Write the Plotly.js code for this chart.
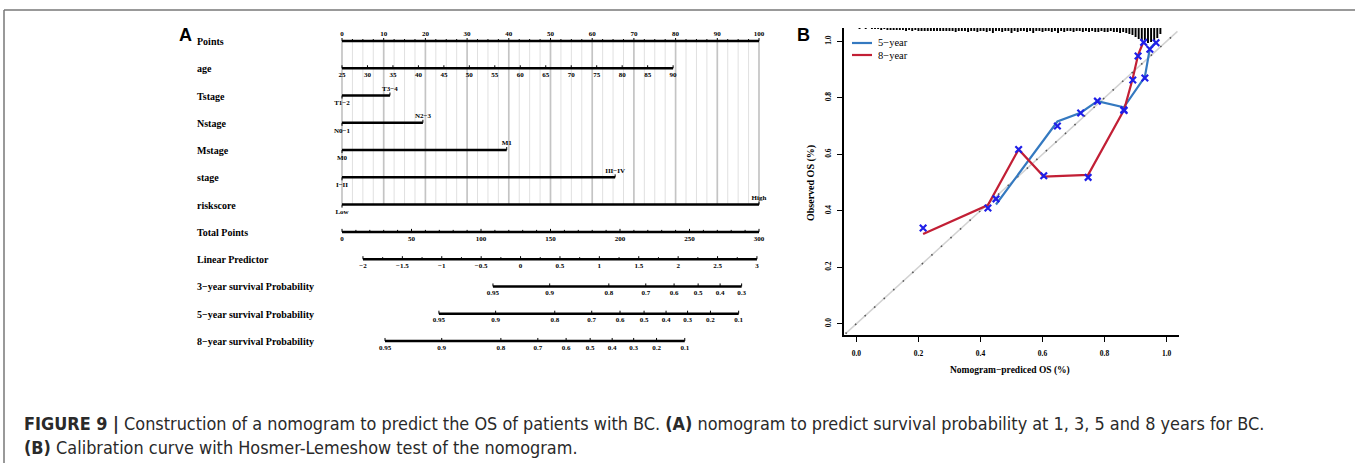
<!DOCTYPE html>
<html><head><meta charset="utf-8">
<script src="https://cdn.plot.ly/plotly-3.0.1.min.js"></script>
<style>body{margin:0;background:#fff}#chart{width:1355px;height:463px}</style>
</head><body><div id="chart"></div>
<script>
// ================= DATA =================
// Panel A: nomogram
const rowLabels = ["Points","age","Tstage","Nstage","Mstage","stage","riskscore","Total Points",
  "Linear Predictor","3\u2212year survival Probability","5\u2212year survival Probability","8\u2212year survival Probability"];
const pointsTicks = [0,10,20,30,40,50,60,70,80,90,100];
const ageTicks = [25,30,35,40,45,50,55,60,65,70,75,80,85,90];
const ageMaxPoints = 79.4;           // points given to age 90 (age 25 = 0)
const tstageLevels = ["T1\u22122","T3\u22124"];   const tstagePoints = [0, 11.5];
const nstageLevels = ["N0\u22121","N2\u22123"];   const nstagePoints = [0, 19.4];
const mstageLevels = ["M0","M1"];                const mstagePoints = [0, 39.5];
const stageLevels  = ["I\u2212II","III\u2212IV"]; const stagePoints  = [0, 65.5];
const riskLevels   = ["Low","High"];             const riskPoints   = [0, 100];
const totalTicks = [0,50,100,150,200,250,300];
const lpTicks = [-2,-1.5,-1,-0.5,0,0.5,1,1.5,2,2.5,3];
const lpAtTotal0 = -2.266;           // linear predictor at 0 total points
const lpPerTotal = 0.01764;          // linear predictor per total point
const surv3Ticks = [0.95,0.9,0.8,0.7,0.6,0.5,0.4,0.3];
const surv5Ticks = [0.95,0.9,0.8,0.7,0.6,0.5,0.4,0.3,0.2,0.1];
const surv8Ticks = [0.95,0.9,0.8,0.7,0.6,0.5,0.4,0.3,0.2,0.1];
const surv3Const = 2.62, surv5Const = 1.934, surv8Const = 1.25;  // lp = ln(-ln S) + const

// Panel B: calibration
const pred5 = [0.450, 0.648, 0.723, 0.777, 0.862, 0.930, 0.946, 0.966];
const obs5  = [0.422, 0.716, 0.747, 0.788, 0.766, 0.874, 0.974, 0.997];
const corr5 = [0.442, 0.700, 0.746, 0.788, 0.757, 0.870, 0.972, 0.995];
const pred8 = [0.215, 0.424, 0.523, 0.604, 0.747, 0.863, 0.891, 0.908, 0.926];
const obs8  = [0.318, 0.420, 0.617, 0.521, 0.527, 0.757, 0.869, 0.951, 1.000];
const corr8 = [0.339, 0.410, 0.617, 0.524, 0.518, 0.755, 0.863, 0.948, 0.996];
// distribution of predicted values (rug at top), bins of 0.01 starting at 0.00
const rugCounts = [0,1,0,1,0,1,1,1,2,1, 2,2,2,2,2,2,3,2,3,2, 3,3,3,3,3,3,3,3,3,3,
  3,3,4,3,3,3,4,3,3,4, 3,3,4,3,5,3,3,4,3,3, 5,3,4,3,3,4,3,5,3,3, 4,3,3,4,3,5,3,4,3,3,
  4,3,3,4,3,4,3,4,4,3, 4,4,3,4,4,5,4,5,6,7, 9,11,13,12,15,14,13,10,6];
const calTicks = [0,0.2,0.4,0.6,0.8,1.0];
const calTickText = ["0.0","0.2","0.4","0.6","0.8","1.0"];
const seriesNames = ["5\u2212year","8\u2212year"];

// ================= GEOMETRY =================
const W = 1355, H = 463;
const ptsX0 = 342, ptsX1 = 759;          // pixel of 0 and 100 points
const pxPerPt = (ptsX1 - ptsX0) / 100;
const row0Px = 41, pxPerRow = 27.27;
const off = px => px / pxPerRow;
const lpToX = lp => ((lp - lpAtTotal0) / lpPerTotal) / 3;
const survToX = (p, c) => lpToX(Math.log(-Math.log(p)) + c);
const fmtNum = v => (v < 0 ? "\u2212" + String(-v) : String(v));

const serif = "Liberation Serif, Times New Roman, serif";
const traces = [];

// grid lines (rows 0..6)
const gMaj = {x:[],y:[]}, gMin = {x:[],y:[]};
for (let i = 0; i <= 40; i++) {
  const p = i * 2.5;
  const g = (i % 4 === 0) ? gMaj : gMin;
  g.x.push(p, p, null); g.y.push(0, 6, null);
}
traces.push({x:gMin.x, y:gMin.y, mode:"lines", line:{color:"#e0e0e0", width:1}, hoverinfo:"skip", showlegend:false});
traces.push({x:gMaj.x, y:gMaj.y, mode:"lines", line:{color:"#c4c4c4", width:1.7}, hoverinfo:"skip", showlegend:false});

const L = {x:[],y:[]}, T = {x:[],y:[]};
const labs = {x:[],y:[],t:[]};
function addAxis(row, xs, texts, side, minorXs) {
  L.x.push(Math.min(...xs), Math.max(...xs), null); L.y.push(row, row, null);
  xs.forEach((x, i) => {
    T.x.push(x, x, null); T.y.push(row, row - off(3), null);
    labs.x.push(x); labs.y.push(row + (side === "above" ? -off(6.5) : off(7))); labs.t.push(texts[i]);
  });
  (minorXs || []).forEach(x => { T.x.push(x, x, null); T.y.push(row, row - off(2), null); });
}
function addCat(row, pts, levels) {
  L.x.push(pts[0], pts[1], null); L.y.push(row, row, null);
  T.x.push(pts[0], pts[0], null); T.y.push(row, row + off(3), null);
  T.x.push(pts[1], pts[1], null); T.y.push(row, row - off(3), null);
  labs.x.push(pts[0]); labs.y.push(row + off(8)); labs.t.push(levels[0]);
  labs.x.push(pts[1]); labs.y.push(row - off(6.5)); labs.t.push(levels[1]);
}
const minorPts = []; for (let p = 0; p <= 100; p += 2.5) if (p % 10) minorPts.push(p);
addAxis(0, pointsTicks, pointsTicks.map(String), "above", minorPts);
addAxis(1, ageTicks.map(a => (a - ageTicks[0]) / (ageTicks[ageTicks.length-1] - ageTicks[0]) * ageMaxPoints), ageTicks.map(String), "below");
addCat(2, tstagePoints, tstageLevels);
addCat(3, nstagePoints, nstageLevels);
addCat(4, mstagePoints, mstageLevels);
addCat(5, stagePoints, stageLevels);
addCat(6, riskPoints, riskLevels);
const minorTot = []; for (let t = 0; t <= 300; t += 10) if (t % 50) minorTot.push(t / 3);
addAxis(7, totalTicks.map(t => t / 3), totalTicks.map(String), "below", minorTot);
const minorLp = []; for (let v = -2; v <= 3; v += 0.25) if (Math.abs(v * 2 - Math.round(v * 2)) > 1e-6) minorLp.push(lpToX(v));
addAxis(8, lpTicks.map(lpToX), lpTicks.map(fmtNum), "below", minorLp);
addAxis(9, surv3Ticks.map(p => survToX(p, surv3Const)), surv3Ticks.map(String), "below");
addAxis(10, surv5Ticks.map(p => survToX(p, surv5Const)), surv5Ticks.map(String), "below");
addAxis(11, surv8Ticks.map(p => survToX(p, surv8Const)), surv8Ticks.map(String), "below");

traces.push({x:T.x, y:T.y, mode:"lines", line:{color:"#000", width:1}, hoverinfo:"skip", showlegend:false});
traces.push({x:L.x, y:L.y, mode:"lines", line:{color:"#000", width:2.5}, hoverinfo:"skip", showlegend:false});
traces.push({x:labs.x, y:labs.y, text:labs.t, mode:"text", textposition:"middle center",
  textfont:{family:serif, size:7, color:"#000", weight:700}, hoverinfo:"skip", showlegend:false, cliponaxis:false});
const labelX = (197 - ptsX0) / pxPerPt;
traces.push({x:rowLabels.map(() => labelX), y:rowLabels.map((_, i) => i + off(1.5)), text:rowLabels, mode:"text",
  textposition:"middle right", textfont:{family:serif, size:10, color:"#000", weight:700},
  hoverinfo:"skip", showlegend:false, cliponaxis:false});

// ---------- Panel B ----------
const xr2 = [-0.04, 1.04], yr2 = [-0.04, 1.047];
const pxPerUnitY = 307 / (yr2[1] - yr2[0]);
traces.push({x:[xr2[0]+0.005, xr2[1]-0.005], y:[yr2[0]+0.005, xr2[1]-0.005], xaxis:"x2", yaxis:"y2", mode:"lines",
  line:{color:"#d2d2d2", width:1.5}, hoverinfo:"skip", showlegend:false});
traces.push({x:[xr2[0]+0.005, xr2[1]-0.005], y:[yr2[0]+0.005, xr2[1]-0.005], xaxis:"x2", yaxis:"y2", mode:"lines",
  line:{color:"#555", width:1.6, dash:"1.5px,11.4px"}, hoverinfo:"skip", showlegend:false});
traces.push({type:"bar", x:rugCounts.map((_, i) => i * 0.01), y:rugCounts.map(c => -c / pxPerUnitY),
  base:yr2[1], width:0.0062, xaxis:"x2", yaxis:"y2", marker:{color:"#000", line:{width:0}},
  hoverinfo:"skip", showlegend:false});
const blue = "#3479c0", red = "#c21f35";
traces.push({x:pred5, y:obs5, xaxis:"x2", yaxis:"y2", mode:"lines", name:seriesNames[0],
  line:{color:blue, width:2.2}, showlegend:false});
traces.push({x:pred8, y:obs8, xaxis:"x2", yaxis:"y2", mode:"lines", name:seriesNames[1],
  line:{color:red, width:2.2}, showlegend:false});
traces.push({x:pred5, y:corr5, xaxis:"x2", yaxis:"y2", mode:"markers",
  marker:{symbol:"x-thin", size:6.5, line:{color:"#1f1fe8", width:2.2}}, showlegend:false, hoverinfo:"skip"});
traces.push({x:pred8, y:corr8, xaxis:"x2", yaxis:"y2", mode:"markers",
  marker:{symbol:"x-thin", size:6.5, line:{color:"#1f1fe8", width:2.2}}, showlegend:false, hoverinfo:"skip"});

const tickFont = {family:serif, size:7.5, color:"#000", weight:700};
const px2fx = px => px / W, px2fy = py => 1 - py / H;
const capFont = {family:"Liberation Sans Narrow, DejaVu Sans Condensed, Arial Narrow, sans-serif", size:17.9, color:"#2a2a2a"};

const layout = {
  width:W, height:H, margin:{l:0,r:0,t:0,b:0,pad:0},
  paper_bgcolor:"#fff", plot_bgcolor:"rgba(0,0,0,0)", showlegend:false,
  xaxis:{domain:[0,1], range:[-ptsX0/pxPerPt, (W-ptsX0)/pxPerPt], visible:false, fixedrange:true},
  yaxis:{domain:[0,1], range:[(H-row0Px)/pxPerRow, -row0Px/pxPerRow], visible:false, fixedrange:true},
  xaxis2:{domain:[px2fx(844), px2fx(1179)], range:xr2, anchor:"y2", showgrid:false, zeroline:false,
    showline:true, linecolor:"#000", linewidth:2, ticks:"outside", ticklen:5, tickwidth:1, tickcolor:"#000",
    tickvals:calTicks, ticktext:calTickText, tickfont:tickFont, ticklabelstandoff:5},
  yaxis2:{domain:[px2fy(335), px2fy(28)], range:yr2, anchor:"x2", showgrid:false, zeroline:false,
    showline:true, linecolor:"#000", linewidth:2, ticks:"outside", ticklen:5, tickwidth:1, tickcolor:"#000",
    tickvals:calTicks, ticktext:calTickText, tickfont:tickFont, tickangle:-90, ticklabelstandoff:3},
  shapes:[
    {type:"line", xref:"paper", yref:"paper", x0:px2fx(4), x1:1, y0:px2fy(10), y1:px2fy(10), line:{color:"#777", width:1.5}},
    {type:"line", xref:"paper", yref:"paper", x0:px2fx(4), x1:px2fx(4), y0:px2fy(10), y1:0, line:{color:"#777", width:1.5}},
    {type:"line", xref:"paper", yref:"paper", x0:px2fx(852), x1:px2fx(872), y0:px2fy(43), y1:px2fy(43), line:{color:blue, width:2.2}},
    {type:"line", xref:"paper", yref:"paper", x0:px2fx(852), x1:px2fx(872), y0:px2fy(55), y1:px2fy(55), line:{color:red, width:2.2}}
  ],
  annotations:[
    {xref:"paper", yref:"paper", x:px2fx(876), y:px2fy(43), text:seriesNames[0], showarrow:false, xanchor:"left", yanchor:"middle",
      font:{family:serif, size:10.5, color:"#000"}},
    {xref:"paper", yref:"paper", x:px2fx(876), y:px2fy(55), text:seriesNames[1], showarrow:false, xanchor:"left", yanchor:"middle",
      font:{family:serif, size:10.5, color:"#000"}},
    {xref:"paper", yref:"paper", x:px2fx(1010), y:px2fy(370), text:"Nomogram\u2212prediced OS (%)", showarrow:false,
      xanchor:"center", yanchor:"middle", font:{family:serif, size:9.5, color:"#000", weight:700}},
    {xref:"paper", yref:"paper", x:px2fx(811), y:px2fy(183), text:"Observed OS (%)", showarrow:false, textangle:-90,
      xanchor:"center", yanchor:"middle", font:{family:serif, size:10, color:"#000", weight:700}},
    {xref:"paper", yref:"paper", x:px2fx(185.5), y:px2fy(34.5), text:"A", showarrow:false, xanchor:"center", yanchor:"middle",
      font:{family:"Liberation Sans, Arial, sans-serif", size:18, color:"#000", weight:700}},
    {xref:"paper", yref:"paper", x:px2fx(803), y:px2fy(34.5), text:"B", showarrow:false, xanchor:"center", yanchor:"middle",
      font:{family:"Liberation Sans, Arial, sans-serif", size:18, color:"#000", weight:700}},
    {xref:"paper", yref:"paper", x:px2fx(22), y:px2fy(423), xanchor:"left", yanchor:"middle", showarrow:false, align:"left",
      text:"<b>FIGURE 9 |</b> Construction of a nomogram to predict the OS of patients with BC. <b>(A)</b> nomogram to predict survival probability at 1, 3, 5 and 8 years for BC.",
      font:capFont},
    {xref:"paper", yref:"paper", x:px2fx(22), y:px2fy(447), xanchor:"left", yanchor:"middle", showarrow:false, align:"left",
      text:"<b>(B)</b> Calibration curve with Hosmer-Lemeshow test of the nomogram.",
      font:capFont}
  ]
};
Plotly.newPlot("chart", traces, layout, {staticPlot:true, displayModeBar:false});
</script></body></html>
